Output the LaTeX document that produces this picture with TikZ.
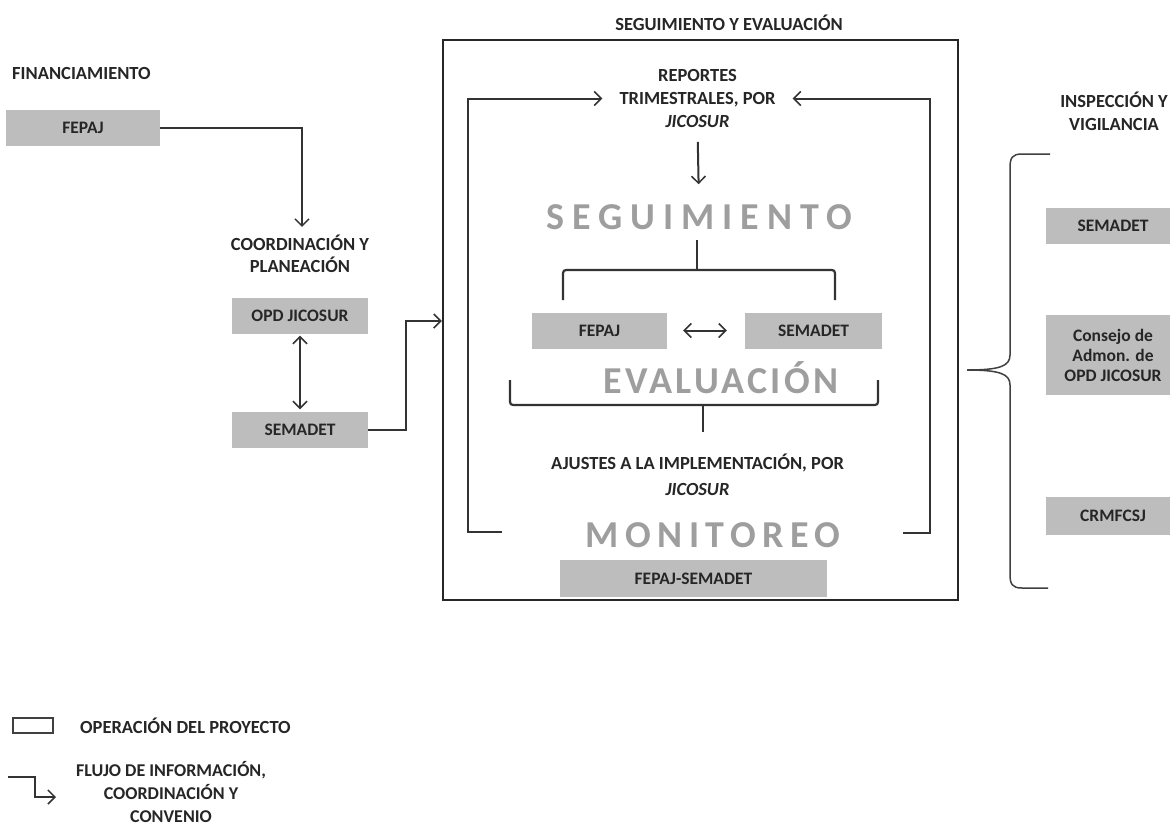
\documentclass[tikz,border=0pt]{standalone}
\usepackage{fontspec}
\setmainfont{Carlito}
\usetikzlibrary{arrows.meta,calc}
\begin{document}
\begin{tikzpicture}[x=1pt,y=-1pt,
  >={Straight Barb[length=7pt,width=14pt,line width=1.5pt]},
  txt/.style={font=\fontsize{18.5}{23}\selectfont\bfseries, text=black!85, align=center, inner sep=0pt},
  gbox/.style={fill=black!26, font=\fontsize{17.5}{20}\selectfont\bfseries, text=black!85, align=center, inner sep=0pt, minimum height=36pt},
  bigtxt/.style={font=\fontsize{38}{40}\selectfont\bfseries, text=black!38, inner sep=0pt},
  conn/.style={line width=2pt, draw=black!80},
  arr/.style={conn, ->},
  brk/.style={line width=2.2pt, draw=black!80, rounded corners=3pt},
  rbr/.style={line width=1.5pt, draw=black!75}]
\useasboundingbox[fill=white] (0,0) rectangle (1170,825);

% ---------- left column ----------
\node[txt, anchor=west] (fin) at (12,73) {FINANCIAMIENTO};
\node[gbox, minimum width=154pt] (fepaj) at (83,127.5) {FEPAJ};
\node[txt, font=\fontsize{18.5}{22}\selectfont\bfseries] (coord) at (300,254) {COORDINACIÓN Y\\PLANEACIÓN};
\node[gbox, minimum width=136pt] (opd) at (300,315.5) {OPD JICOSUR};
\node[gbox, minimum width=136pt] (sem) at (300,429.5) {SEMADET};

% ---------- central frame ----------
\node[draw=black!85, line width=2.4pt, minimum width=515pt, minimum height=560pt, inner sep=0pt] (frame) at (700.5,320) {};
\node[txt] (title) at (729,23) {SEGUIMIENTO Y EVALUACIÓN};
\node[txt, inner xsep=17pt] (rep) at (697.5,98.5) {REPORTES\\TRIMESTRALES, POR\\\textit{JICOSUR}};
\node[bigtxt] (seg) at (699,217) {\addfontfeature{LetterSpace=21}SEGUIMIENTO};
\node[gbox, minimum width=135pt] (f2) at (599.5,330.5) {FEPAJ};
\node[gbox, minimum width=137pt] (s2) at (813.5,330.5) {SEMADET};
\node[bigtxt] (eva) at (721,378) {\addfontfeature{LetterSpace=9}EVALUACIÓN};
\node[txt, font=\fontsize{18.5}{26}\selectfont\bfseries] (aju) at (697.5,475) {AJUSTES A LA IMPLEMENTACIÓN, POR\\\textit{JICOSUR}};
\node[bigtxt] (mon) at (713,535) {\addfontfeature{LetterSpace=17}MONITOREO};
\node[gbox, minimum width=267pt, minimum height=37pt] (fs) at (693.5,578.5) {FEPAJ-SEMADET};

% ---------- right column ----------
\node[txt] (insp) at (1114,111.5) {INSPECCIÓN Y\\VIGILANCIA};
\node[gbox, minimum width=135pt] (r1) at (1113,225.5) {SEMADET};
\node[gbox, minimum width=135pt, minimum height=80pt] (r2) at (1113,355) {Consejo de\\Admon. de\\OPD JICOSUR};
\node[gbox, minimum width=135pt, minimum height=38pt] (r3) at (1113,516) {CRMFCSJ};

% ---------- connectors ----------
\draw[arr] (fepaj.east) -| ($(coord.north)+(2,-8)$);
\draw[conn, <->, shorten <=2pt, shorten >=2pt] (opd) -- (sem);
\coordinate (entry) at (frame.west |- 0,321);
\draw[arr] (sem.east) -- ++(38,0) |- (entry);

\coordinate (lstart) at (502,532);
\coordinate (rstart) at (903,533);
\draw[arr] (lstart) -- ++(-34,0) |- (rep.west);
\draw[arr] (rstart) -- ++(27,0) |- (rep.east);
\draw[arr, shorten <=14pt, shorten >=20pt] (rep.south) -- (seg.north);
\draw[conn, <->, shorten <=16pt, shorten >=18pt] (f2.east) -- (s2.west);

% brackets
\draw[brk] (697,240) -- (697,270);
\draw[brk] (563,300) -- (563,270) -- (835,270) -- (835,300);
\draw[brk] (510,380) -- (510,405) -- (878,405) -- (878,380);
\draw[brk] (703,405) -- (703,432);

\draw[rbr] (1050,154) -- (1022,154) .. controls (1012,154) and (1010,158) .. (1010,168) -- (1010,355) .. controls (1010,366) and (1000,370) .. (967,370);
\draw[rbr] (967,370) .. controls (1000,370) and (1010,374) .. (1010,385) -- (1010,574) .. controls (1010,584) and (1012,588) .. (1022,588) -- (1048,588);

% ---------- legend ----------
\node[draw=black!75, line width=1.8pt, minimum width=40pt, minimum height=15pt, inner sep=0pt] (legbox) at (33,725.5) {};
\node[txt, anchor=west] (legt1) at (80,726) {OPERACIÓN DEL PROYECTO};
\coordinate (legs) at (8,777);
\coordinate (lege) at (56,797);
\draw[line width=1.4pt, draw=black!80, ->] (legs) -- ++(27,0) |- (lege);
\node[txt, font=\fontsize{18}{23}\selectfont\bfseries] (legt2) at (171,792) {FLUJO DE INFORMACIÓN,\\COORDINACIÓN Y\\CONVENIO};
\end{tikzpicture}
\end{document}
